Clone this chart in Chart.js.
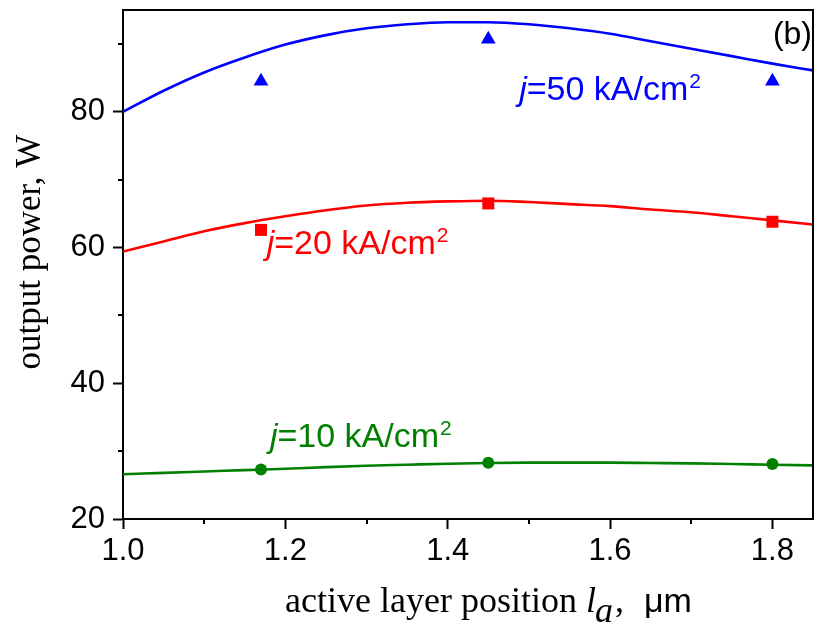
<!DOCTYPE html>
<html>
<head>
<meta charset="utf-8">
<script src="https://cdn.jsdelivr.net/npm/chart.js@4"></script>
<style>
  html, body { margin: 0; padding: 0; background: #fff; }
  canvas { display: block; }
</style>
</head>
<body>
<canvas id="c" width="814" height="630"></canvas>
<script>
// ---- data ----
const curveX     = [1.00, 1.05, 1.10, 1.15, 1.20, 1.25, 1.30, 1.35, 1.40, 1.45, 1.50, 1.55, 1.60, 1.65, 1.70, 1.75, 1.80, 1.85];
const blueCurve  = [80.0, 83.1, 85.8, 88.0, 89.9, 91.3, 92.3, 92.9, 93.2, 93.2, 92.9, 92.3, 91.5, 90.4, 89.3, 88.2, 87.1, 86.1];
const redCurve   = [59.4, 60.9, 62.4, 63.6, 64.6, 65.5, 66.2, 66.6, 66.8, 66.9, 66.7, 66.4, 66.1, 65.6, 65.2, 64.6, 64.0, 63.4];
const greenCurve = [26.6, 26.8, 27.0, 27.2, 27.4, 27.65, 27.85, 28.0, 28.15, 28.25, 28.3, 28.3, 28.3, 28.25, 28.2, 28.1, 28.0, 27.9];

const pointX      = [1.17, 1.45, 1.80];
const bluePoints  = [84.5, 90.7, 84.5];
const redPoints   = [62.6, 66.5, 63.8];
const greenPoints = [27.3, 28.3, 28.1];

const seriesCurrents = ['50', '20', '10'];   // kA/cm^2
const xTicks = [1.0, 1.2, 1.4, 1.6, 1.8];
const xMinorTicks = [1.1, 1.3, 1.5, 1.7];
const yTicks = [20, 40, 60, 80];
const yMinorTicks = [30, 50, 70, 90];
const panelLabel = '(b)';
const yTitle = 'output power, W';

const BLUE = '#0000ff', RED = '#ff0000', GREEN = '#008000';
const SANS = "'Liberation Sans', Arial, sans-serif";
const SERIF = "'Liberation Serif', 'Times New Roman', serif";

const toXY = (xs, ys) => xs.map((v, i) => ({ x: v, y: ys[i] }));

function curveDs(ys, color) {
  return { type: 'line', data: toXY(curveX, ys), borderColor: color, backgroundColor: color,
           borderWidth: 2.6, pointRadius: 0, cubicInterpolationMode: 'monotone', fill: false, order: 2 };
}
function pointDs(ys, color, style, r) {
  return { type: 'line', data: toXY(pointX, ys), showLine: false, pointStyle: style, pointRadius: r,
           pointBackgroundColor: color, pointBorderColor: color, pointBorderWidth: 0, order: 1 };
}

const decor = {
  id: 'decor',
  afterDraw(chart) {
    const { ctx, chartArea: a, scales: { x, y } } = chart;
    ctx.save();
    ctx.strokeStyle = '#000';
    ctx.lineWidth = 2;
    // top and right frame
    ctx.beginPath();
    ctx.moveTo(a.left - 1, a.top);
    ctx.lineTo(a.right, a.top);
    ctx.lineTo(a.right, a.bottom + 1);
    ctx.stroke();
    // minor ticks
    ctx.beginPath();
    yMinorTicks.forEach(v => { const p = Math.round(y.getPixelForValue(v)); ctx.moveTo(a.left, p); ctx.lineTo(a.left - 5, p); });
    xMinorTicks.forEach(v => { const p = Math.round(x.getPixelForValue(v)); ctx.moveTo(p, a.bottom); ctx.lineTo(p, a.bottom + 5); });
    ctx.stroke();

    // inline series labels: j=NN kA/cm^2
    function seriesLabel(cur, xv, yv, color) {
      let px = x.getPixelForValue(xv), py = y.getPixelForValue(yv);
      ctx.fillStyle = color;
      ctx.textBaseline = 'alphabetic';
      ctx.textAlign = 'left';
      ctx.font = 'italic 34px ' + SANS;
      ctx.fillText('j', px, py);
      px += ctx.measureText('j').width;
      ctx.font = '34px ' + SANS;
      const main = '=' + cur + ' kA/cm';
      ctx.fillText(main, px, py);
      px += ctx.measureText(main).width + 1;
      ctx.font = '21px ' + SANS;
      ctx.fillText('2', px, py - 12);
    }
    seriesLabel(seriesCurrents[0], 1.488, 81.8, BLUE);
    seriesLabel(seriesCurrents[1], 1.177, 59.1, RED);
    seriesLabel(seriesCurrents[2], 1.181, 30.6, GREEN);

    // panel label
    ctx.fillStyle = '#000';
    ctx.font = '32px ' + SANS;
    ctx.textAlign = 'right';
    ctx.fillText(panelLabel, a.right - 1, a.top + 34);

    // y title (rotated)
    ctx.save();
    ctx.translate(40, 252);
    ctx.rotate(-Math.PI / 2);
    ctx.font = '35px ' + SERIF;
    ctx.textAlign = 'center';
    ctx.textBaseline = 'alphabetic';
    ctx.fillText(yTitle, 0, 0);
    ctx.restore();

    // x title: active layer position l_a,  μm
    ctx.textAlign = 'left';
    ctx.textBaseline = 'alphabetic';
    let tx = 285; const ty = 612;
    ctx.font = '36px ' + SERIF;
    const t1 = 'active layer position ';
    ctx.fillText(t1, tx, ty); tx += ctx.measureText(t1).width;
    ctx.font = 'italic 36px ' + SERIF;
    ctx.fillText('l', tx, ty); tx += ctx.measureText('l').width;
    ctx.fillText('a', tx - 1, ty + 10); tx += ctx.measureText('a').width - 1;
    ctx.font = '36px ' + SERIF;
    ctx.fillText(',', tx + 2, ty); tx += ctx.measureText(',').width + 2;
    tx += 20;
    ctx.font = '34px ' + SANS;
    ctx.fillText('\u03bcm', tx, ty);
    ctx.restore();
  }
};

new Chart(document.getElementById('c'), {
  type: 'line',
  data: {
    datasets: [
      curveDs(blueCurve, BLUE), curveDs(redCurve, RED), curveDs(greenCurve, GREEN),
      pointDs(bluePoints, BLUE, 'triangle', 8.5),
      pointDs(redPoints, RED, 'rect', 8.5),
      pointDs(greenPoints, GREEN, 'circle', 6)
    ]
  },
  options: {
    responsive: false,
    animation: false,
    devicePixelRatio: 1,
    layout: { autoPadding: false, padding: { top: 10, right: 1, left: 0, bottom: 0 } },
    plugins: { legend: { display: false }, tooltip: { enabled: false }, title: { display: false } },
    scales: {
      x: {
        type: 'linear', min: 1.0, max: 1.85,
        afterBuildTicks: s => { s.ticks = xTicks.map(v => ({ value: v })); },
        afterFit: s => { s.height = 111; s.paddingLeft = 0; s.paddingRight = 0; },
        grid: { drawOnChartArea: false, drawTicks: true, tickLength: 10, tickWidth: 2, tickColor: '#000' },
        border: { display: true, color: '#000', width: 2 },
        ticks: { color: '#000', padding: 4, maxRotation: 0, autoSkip: false,
                 font: { family: SANS, size: 31 }, callback: v => Number(v).toFixed(1) }
      },
      y: {
        type: 'linear', min: 20, max: 95,
        afterBuildTicks: s => { s.ticks = yTicks.map(v => ({ value: v })); },
        afterFit: s => { s.width = 123; s.paddingTop = 0; s.paddingBottom = 0; },
        grid: { drawOnChartArea: false, drawTicks: true, tickLength: 10, tickWidth: 2, tickColor: '#000' },
        border: { display: true, color: '#000', width: 2 },
        ticks: { color: '#000', padding: 8, autoSkip: false,
                 font: { family: SANS, size: 31 }, callback: v => String(v) }
      }
    }
  },
  plugins: [decor]
});
</script>
</body>
</html>
